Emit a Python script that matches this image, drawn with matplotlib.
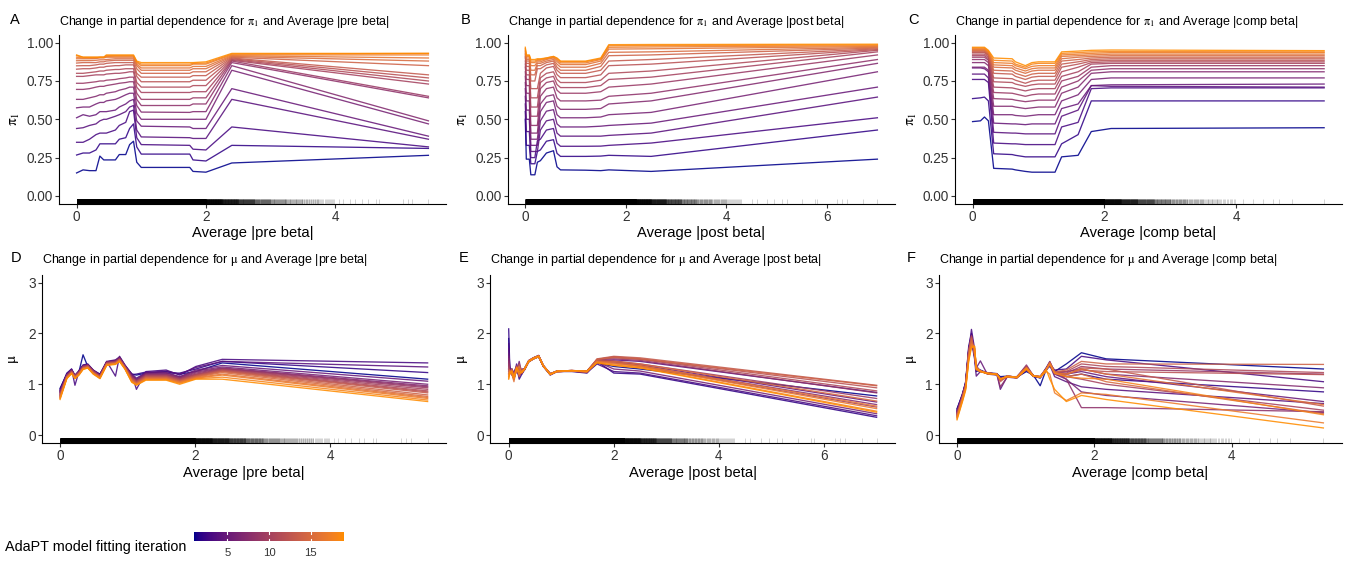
import numpy as np
import matplotlib
matplotlib.use("Agg")
import matplotlib.pyplot as plt
import matplotlib.transforms as mtransforms
from matplotlib.collections import LineCollection
from matplotlib.colors import ListedColormap

plt.rcParams['font.family'] = ['Liberation Sans', 'DejaVu Sans']
plt.rcParams['mathtext.fontset'] = 'stix'
plt.rcParams['mathtext.default'] = 'rm'

# ---------------------------------------------------------------- data
iterations = list(range(1, 20))

# pi1 vs Average |pre beta|
x_pi_pre = [0, 0.1, 0.2, 0.3, 0.36, 0.42, 0.46, 0.6, 0.66, 0.76, 0.82, 0.88,
            0.93, 1.0, 1.75, 1.8, 2.0, 2.4, 5.44]
pi_pre = [
    [0.15, 0.17, 0.165, 0.165, 0.26, 0.235, 0.235, 0.235, 0.27, 0.27, 0.335, 0.357, 0.22, 0.186, 0.186, 0.16, 0.155, 0.215, 0.265],
    [0.267, 0.28, 0.28, 0.30, 0.34, 0.34, 0.34, 0.34, 0.37, 0.38, 0.44, 0.47, 0.32, 0.273, 0.273, 0.235, 0.228, 0.33, 0.31],
    [0.35, 0.35, 0.37, 0.40, 0.41, 0.41, 0.41, 0.43, 0.46, 0.48, 0.55, 0.56, 0.38, 0.335, 0.33, 0.305, 0.30, 0.45, 0.32],
    [0.44, 0.445, 0.46, 0.47, 0.49, 0.50, 0.50, 0.52, 0.53, 0.55, 0.58, 0.59, 0.43, 0.385, 0.38, 0.375, 0.375, 0.63, 0.37],
    [0.51, 0.53, 0.52, 0.53, 0.55, 0.55, 0.55, 0.56, 0.58, 0.60, 0.62, 0.63, 0.49, 0.455, 0.45, 0.44, 0.44, 0.70, 0.39],
    [0.575, 0.58, 0.58, 0.60, 0.61, 0.61, 0.62, 0.63, 0.64, 0.66, 0.67, 0.67, 0.54, 0.50, 0.50, 0.50, 0.50, 0.82, 0.47],
    [0.63, 0.63, 0.64, 0.65, 0.66, 0.66, 0.67, 0.68, 0.69, 0.70, 0.71, 0.71, 0.59, 0.547, 0.545, 0.55, 0.55, 0.85, 0.49],
    [0.695, 0.695, 0.70, 0.71, 0.715, 0.715, 0.72, 0.73, 0.735, 0.74, 0.745, 0.745, 0.63, 0.59, 0.59, 0.60, 0.60, 0.87, 0.64],
    [0.735, 0.735, 0.74, 0.745, 0.75, 0.75, 0.755, 0.76, 0.765, 0.77, 0.775, 0.775, 0.67, 0.63, 0.63, 0.64, 0.64, 0.88, 0.65],
    [0.78, 0.78, 0.785, 0.79, 0.79, 0.79, 0.795, 0.80, 0.80, 0.805, 0.81, 0.81, 0.71, 0.675, 0.675, 0.68, 0.68, 0.885, 0.73],
    [0.80, 0.80, 0.805, 0.81, 0.815, 0.815, 0.82, 0.825, 0.825, 0.83, 0.83, 0.83, 0.74, 0.71, 0.71, 0.72, 0.72, 0.89, 0.75],
    [0.827, 0.83, 0.83, 0.835, 0.84, 0.84, 0.845, 0.85, 0.85, 0.855, 0.855, 0.855, 0.78, 0.745, 0.745, 0.755, 0.755, 0.895, 0.77],
    [0.849, 0.85, 0.85, 0.855, 0.86, 0.86, 0.865, 0.87, 0.87, 0.87, 0.87, 0.87, 0.80, 0.775, 0.775, 0.785, 0.785, 0.90, 0.79],
    [0.867, 0.87, 0.87, 0.87, 0.875, 0.875, 0.88, 0.885, 0.885, 0.885, 0.885, 0.885, 0.83, 0.80, 0.80, 0.81, 0.81, 0.905, 0.85],
    [0.882, 0.883, 0.883, 0.885, 0.888, 0.888, 0.89, 0.895, 0.895, 0.895, 0.895, 0.895, 0.85, 0.82, 0.82, 0.83, 0.83, 0.91, 0.88],
    [0.895, 0.895, 0.895, 0.897, 0.90, 0.90, 0.905, 0.905, 0.905, 0.905, 0.905, 0.905, 0.86, 0.835, 0.835, 0.845, 0.845, 0.915, 0.90],
    [0.905, 0.90, 0.90, 0.90, 0.905, 0.905, 0.91, 0.912, 0.912, 0.912, 0.912, 0.912, 0.87, 0.85, 0.85, 0.86, 0.86, 0.92, 0.92],
    [0.915, 0.905, 0.905, 0.905, 0.905, 0.905, 0.915, 0.915, 0.915, 0.915, 0.915, 0.915, 0.875, 0.86, 0.86, 0.865, 0.867, 0.925, 0.93],
    [0.92, 0.905, 0.905, 0.905, 0.905, 0.905, 0.92, 0.92, 0.92, 0.92, 0.92, 0.92, 0.88, 0.87, 0.87, 0.87, 0.875, 0.93, 0.93],
]

# pi1 vs Average |post beta|
x_pi_post = [0, 0.02, 0.08, 0.11, 0.19, 0.24, 0.3, 0.42, 0.56, 0.63, 0.7, 1.2, 1.5, 1.66, 2.5, 7.0]
pi_post = [
    [0.50, 0.24, 0.24, 0.138, 0.138, 0.22, 0.23, 0.28, 0.295, 0.19, 0.17, 0.168, 0.165, 0.17, 0.16, 0.24],
    [0.55, 0.33, 0.33, 0.21, 0.21, 0.29, 0.30, 0.357, 0.367, 0.278, 0.258, 0.258, 0.26, 0.265, 0.258, 0.43],
    [0.60, 0.42, 0.42, 0.25, 0.25, 0.36, 0.37, 0.43, 0.44, 0.344, 0.324, 0.324, 0.325, 0.33, 0.345, 0.51],
    [0.65, 0.50, 0.50, 0.29, 0.29, 0.29, 0.43, 0.49, 0.50, 0.41, 0.39, 0.39, 0.39, 0.395, 0.41, 0.645],
    [0.70, 0.56, 0.56, 0.33, 0.33, 0.33, 0.49, 0.553, 0.563, 0.47, 0.45, 0.45, 0.455, 0.46, 0.475, 0.71],
    [0.74, 0.62, 0.62, 0.37, 0.37, 0.37, 0.55, 0.61, 0.62, 0.53, 0.51, 0.51, 0.515, 0.53, 0.545, 0.81],
    [0.78, 0.67, 0.67, 0.41, 0.41, 0.41, 0.60, 0.65, 0.66, 0.585, 0.565, 0.565, 0.57, 0.60, 0.62, 0.865],
    [0.81, 0.72, 0.72, 0.46, 0.46, 0.46, 0.65, 0.70, 0.71, 0.64, 0.62, 0.62, 0.625, 0.65, 0.67, 0.89],
    [0.84, 0.76, 0.76, 0.52, 0.52, 0.52, 0.70, 0.74, 0.75, 0.69, 0.67, 0.67, 0.68, 0.71, 0.73, 0.92],
    [0.86, 0.79, 0.79, 0.58, 0.58, 0.58, 0.74, 0.77, 0.78, 0.727, 0.707, 0.707, 0.72, 0.76, 0.775, 0.94],
    [0.88, 0.82, 0.82, 0.64, 0.64, 0.64, 0.77, 0.80, 0.81, 0.76, 0.74, 0.74, 0.755, 0.80, 0.815, 0.95],
    [0.90, 0.845, 0.845, 0.70, 0.70, 0.70, 0.80, 0.835, 0.845, 0.792, 0.772, 0.772, 0.79, 0.85, 0.86, 0.955],
    [0.91, 0.865, 0.865, 0.75, 0.75, 0.83, 0.83, 0.855, 0.865, 0.82, 0.80, 0.80, 0.82, 0.88, 0.89, 0.96],
    [0.92, 0.88, 0.88, 0.79, 0.79, 0.85, 0.85, 0.87, 0.88, 0.84, 0.82, 0.82, 0.845, 0.915, 0.92, 0.965],
    [0.93, 0.89, 0.89, 0.82, 0.82, 0.865, 0.865, 0.88, 0.89, 0.86, 0.84, 0.84, 0.865, 0.937, 0.94, 0.97],
    [0.94, 0.90, 0.90, 0.85, 0.85, 0.875, 0.875, 0.89, 0.90, 0.877, 0.857, 0.857, 0.88, 0.958, 0.96, 0.975],
    [0.95, 0.91, 0.91, 0.87, 0.87, 0.885, 0.885, 0.895, 0.905, 0.888, 0.868, 0.868, 0.89, 0.97, 0.972, 0.98],
    [0.96, 0.915, 0.915, 0.88, 0.88, 0.89, 0.89, 0.90, 0.91, 0.896, 0.876, 0.876, 0.895, 0.98, 0.981, 0.985],
    [0.97, 0.92, 0.92, 0.89, 0.89, 0.895, 0.895, 0.90, 0.91, 0.90, 0.88, 0.88, 0.90, 0.987, 0.988, 0.99],
]

# pi1 vs Average |comp beta|
x_pi_comp = [0, 0.12, 0.18, 0.24, 0.32, 0.6, 0.65, 0.8, 0.9, 1.0, 1.25, 1.35, 1.6, 1.8, 2.1, 5.33]
pi_comp = [
    [0.485, 0.49, 0.515, 0.49, 0.18, 0.175, 0.17, 0.16, 0.155, 0.155, 0.155, 0.255, 0.265, 0.42, 0.44, 0.445],
    [0.635, 0.64, 0.645, 0.62, 0.275, 0.27, 0.265, 0.255, 0.255, 0.255, 0.255, 0.34, 0.40, 0.62, 0.62, 0.62],
    [0.76, 0.76, 0.76, 0.74, 0.345, 0.34, 0.34, 0.335, 0.335, 0.335, 0.335, 0.45, 0.48, 0.70, 0.705, 0.705],
    [0.795, 0.795, 0.795, 0.77, 0.415, 0.41, 0.41, 0.405, 0.405, 0.405, 0.405, 0.52, 0.56, 0.72, 0.715, 0.71],
    [0.835, 0.835, 0.83, 0.81, 0.475, 0.47, 0.47, 0.465, 0.47, 0.47, 0.47, 0.57, 0.60, 0.72, 0.725, 0.73],
    [0.84, 0.84, 0.84, 0.82, 0.53, 0.53, 0.525, 0.52, 0.525, 0.53, 0.53, 0.62, 0.66, 0.76, 0.77, 0.77],
    [0.87, 0.87, 0.87, 0.85, 0.585, 0.585, 0.58, 0.57, 0.575, 0.58, 0.58, 0.67, 0.71, 0.80, 0.81, 0.81],
    [0.89, 0.89, 0.89, 0.87, 0.635, 0.63, 0.625, 0.615, 0.62, 0.625, 0.625, 0.71, 0.75, 0.82, 0.83, 0.83],
    [0.905, 0.905, 0.905, 0.885, 0.675, 0.67, 0.665, 0.65, 0.66, 0.665, 0.665, 0.75, 0.78, 0.84, 0.85, 0.85],
    [0.915, 0.915, 0.915, 0.895, 0.71, 0.705, 0.70, 0.685, 0.695, 0.70, 0.70, 0.78, 0.81, 0.86, 0.865, 0.865],
    [0.925, 0.925, 0.925, 0.905, 0.745, 0.74, 0.73, 0.715, 0.725, 0.73, 0.73, 0.81, 0.84, 0.87, 0.875, 0.875],
    [0.935, 0.935, 0.935, 0.915, 0.77, 0.765, 0.755, 0.735, 0.75, 0.755, 0.755, 0.84, 0.86, 0.88, 0.885, 0.885],
    [0.94, 0.94, 0.94, 0.92, 0.80, 0.795, 0.78, 0.76, 0.775, 0.78, 0.78, 0.86, 0.875, 0.89, 0.895, 0.895],
    [0.945, 0.945, 0.945, 0.925, 0.82, 0.815, 0.80, 0.78, 0.795, 0.80, 0.80, 0.88, 0.89, 0.90, 0.905, 0.905],
    [0.95, 0.95, 0.95, 0.93, 0.84, 0.835, 0.82, 0.80, 0.815, 0.82, 0.82, 0.895, 0.905, 0.91, 0.915, 0.915],
    [0.955, 0.955, 0.955, 0.935, 0.855, 0.85, 0.835, 0.815, 0.83, 0.835, 0.835, 0.91, 0.915, 0.92, 0.925, 0.925],
    [0.96, 0.96, 0.96, 0.94, 0.87, 0.865, 0.85, 0.83, 0.845, 0.85, 0.85, 0.92, 0.925, 0.93, 0.935, 0.935],
    [0.965, 0.965, 0.965, 0.945, 0.885, 0.88, 0.86, 0.84, 0.86, 0.865, 0.865, 0.93, 0.935, 0.94, 0.942, 0.94],
    [0.97, 0.97, 0.97, 0.95, 0.90, 0.895, 0.875, 0.85, 0.87, 0.875, 0.875, 0.94, 0.945, 0.95, 0.952, 0.948],
]

# mu vs Average |pre beta|
x_mu_pre = [0, 0.1, 0.17, 0.22, 0.28, 0.34, 0.41, 0.49, 0.59, 0.69, 0.82, 0.88, 0.96,
            1.06, 1.13, 1.27, 1.57, 1.77, 2.01, 2.4, 5.44]
mu_pre = [
    [0.92, 1.2, 1.28, 1.15, 1.25, 1.58, 1.35, 1.25, 1.2, 1.42, 1.46, 1.5, 1.35, 1.2, 1.18, 1.22, 1.25, 1.2, 1.25, 1.42, 1.1],
    [0.9, 1.22, 1.3, 1.17, 1.27, 1.38, 1.4, 1.28, 1.2, 1.44, 1.47, 1.52, 1.36, 1.19, 1.2, 1.24, 1.22, 1.22, 1.3, 1.45, 1.23],
    [0.88, 1.2, 1.3, 0.98, 1.25, 1.37, 1.38, 1.27, 1.19, 1.45, 1.16, 1.55, 1.38, 1.2, 0.9, 1.25, 1.28, 1.18, 1.35, 1.49, 1.42],
    [0.87, 1.18, 1.29, 1.18, 1.26, 1.37, 1.39, 1.28, 1.18, 1.45, 1.48, 1.54, 1.37, 1.21, 1.12, 1.23, 1.26, 1.2, 1.33, 1.45, 1.34],
    [0.86, 1.19, 1.28, 1.17, 1.24, 1.36, 1.38, 1.27, 1.18, 1.44, 1.46, 1.53, 1.37, 1.18, 1.1, 1.22, 1.23, 1.15, 1.28, 1.37, 1.06],
    [0.85, 1.18, 1.27, 1.16, 1.25, 1.36, 1.37, 1.26, 1.17, 1.43, 1.46, 1.52, 1.36, 1.17, 1.09, 1.21, 1.22, 1.14, 1.26, 1.34, 1.0],
    [0.84, 1.17, 1.27, 1.17, 1.24, 1.35, 1.38, 1.27, 1.17, 1.44, 1.45, 1.51, 1.36, 1.16, 1.08, 1.2, 1.2, 1.13, 1.24, 1.32, 0.97],
    [0.83, 1.18, 1.26, 1.16, 1.23, 1.35, 1.37, 1.26, 1.17, 1.43, 1.45, 1.5, 1.35, 1.15, 1.07, 1.19, 1.19, 1.12, 1.22, 1.31, 0.95],
    [0.82, 1.17, 1.26, 1.17, 1.24, 1.34, 1.37, 1.25, 1.16, 1.42, 1.44, 1.5, 1.35, 1.14, 1.06, 1.18, 1.18, 1.11, 1.2, 1.3, 0.93],
    [0.8, 1.16, 1.25, 1.16, 1.23, 1.34, 1.36, 1.25, 1.16, 1.42, 1.44, 1.49, 1.34, 1.13, 1.05, 1.17, 1.17, 1.1, 1.19, 1.29, 0.9],
    [0.79, 1.15, 1.25, 1.15, 1.22, 1.33, 1.36, 1.24, 1.15, 1.41, 1.43, 1.49, 1.34, 1.12, 1.05, 1.16, 1.16, 1.09, 1.18, 1.28, 0.87],
    [0.78, 1.15, 1.24, 1.15, 1.22, 1.33, 1.35, 1.24, 1.15, 1.41, 1.43, 1.48, 1.33, 1.11, 1.04, 1.15, 1.15, 1.08, 1.17, 1.27, 0.85],
    [0.77, 1.14, 1.24, 1.14, 1.21, 1.32, 1.35, 1.23, 1.14, 1.4, 1.42, 1.48, 1.33, 1.1, 1.03, 1.14, 1.14, 1.07, 1.16, 1.26, 0.83],
    [0.76, 1.14, 1.23, 1.14, 1.21, 1.32, 1.34, 1.23, 1.14, 1.4, 1.42, 1.47, 1.32, 1.09, 1.02, 1.13, 1.13, 1.06, 1.15, 1.25, 0.79],
    [0.75, 1.13, 1.23, 1.13, 1.2, 1.31, 1.34, 1.22, 1.13, 1.39, 1.41, 1.47, 1.32, 1.08, 1.01, 1.12, 1.12, 1.05, 1.14, 1.23, 0.76],
    [0.74, 1.13, 1.22, 1.13, 1.2, 1.31, 1.33, 1.22, 1.13, 1.39, 1.41, 1.46, 1.31, 1.07, 1.0, 1.11, 1.11, 1.04, 1.13, 1.2, 0.74],
    [0.73, 1.12, 1.22, 1.12, 1.19, 1.3, 1.33, 1.21, 1.12, 1.38, 1.4, 1.46, 1.31, 1.06, 1.0, 1.1, 1.1, 1.03, 1.12, 1.18, 0.72],
    [0.72, 1.12, 1.21, 1.12, 1.19, 1.3, 1.32, 1.21, 1.12, 1.38, 1.4, 1.45, 1.3, 1.05, 0.99, 1.09, 1.09, 1.02, 1.11, 1.14, 0.69],
    [0.7, 1.11, 1.21, 1.11, 1.18, 1.29, 1.32, 1.2, 1.11, 1.37, 1.39, 1.45, 1.3, 1.04, 0.98, 1.08, 1.08, 1.0, 1.1, 1.1, 0.66],
]

# mu vs Average |post beta|
x_mu_post = [0, 0.02, 0.06, 0.1, 0.15, 0.2, 0.25, 0.3, 0.38, 0.47, 0.57, 0.66, 0.79,
             0.92, 1.2, 1.49, 1.68, 2.0, 2.5, 7.0]
mu_post = [
    [1.9, 1.25, 1.3, 1.2, 1.3, 1.15, 1.25, 1.3, 1.45, 1.5, 1.54, 1.35, 1.2, 1.26, 1.26, 1.24, 1.42, 1.35, 1.3, 0.77],
    [2.09, 1.35, 1.2, 1.1, 1.35, 1.1, 1.2, 1.28, 1.44, 1.5, 1.55, 1.36, 1.18, 1.25, 1.25, 1.22, 1.45, 1.22, 1.2, 0.35],
    [1.8, 1.3, 1.25, 1.15, 1.4, 1.2, 1.22, 1.3, 1.46, 1.52, 1.56, 1.37, 1.2, 1.26, 1.26, 1.23, 1.4, 1.25, 1.22, 0.38],
    [1.7, 1.28, 1.22, 1.2, 1.3, 1.3, 1.25, 1.28, 1.44, 1.5, 1.55, 1.35, 1.2, 1.25, 1.26, 1.25, 1.46, 1.48, 1.45, 0.84],
    [1.6, 1.22, 1.3, 1.15, 1.25, 1.45, 1.2, 1.3, 1.46, 1.52, 1.56, 1.36, 1.21, 1.26, 1.27, 1.26, 1.47, 1.45, 1.38, 0.65],
    [1.55, 1.3, 1.18, 1.25, 1.35, 1.2, 1.28, 1.29, 1.45, 1.51, 1.55, 1.35, 1.19, 1.25, 1.26, 1.24, 1.44, 1.3, 1.26, 0.42],
    [1.5, 1.25, 1.25, 1.12, 1.3, 1.25, 1.3, 1.31, 1.47, 1.52, 1.57, 1.37, 1.2, 1.26, 1.27, 1.25, 1.46, 1.42, 1.36, 0.6],
    [1.45, 1.2, 1.3, 1.2, 1.28, 1.35, 1.22, 1.3, 1.45, 1.5, 1.55, 1.36, 1.21, 1.25, 1.26, 1.26, 1.48, 1.5, 1.47, 0.83],
    [1.4, 1.28, 1.2, 1.18, 1.32, 1.15, 1.26, 1.29, 1.46, 1.51, 1.56, 1.35, 1.2, 1.26, 1.27, 1.25, 1.47, 1.46, 1.4, 0.72],
    [1.35, 1.22, 1.25, 1.1, 1.3, 1.3, 1.24, 1.3, 1.45, 1.5, 1.55, 1.36, 1.19, 1.25, 1.26, 1.24, 1.45, 1.44, 1.35, 0.55],
    [1.3, 1.26, 1.22, 1.15, 1.36, 1.2, 1.28, 1.31, 1.46, 1.52, 1.56, 1.37, 1.2, 1.26, 1.27, 1.26, 1.48, 1.52, 1.49, 0.87],
    [1.28, 1.24, 1.28, 1.12, 1.28, 1.4, 1.25, 1.3, 1.45, 1.51, 1.55, 1.36, 1.21, 1.25, 1.26, 1.25, 1.49, 1.54, 1.5, 0.93],
    [1.25, 1.2, 1.3, 1.18, 1.3, 1.25, 1.23, 1.29, 1.44, 1.5, 1.54, 1.35, 1.2, 1.25, 1.26, 1.25, 1.5, 1.55, 1.52, 0.98],
    [1.22, 1.25, 1.2, 1.1, 1.35, 1.15, 1.27, 1.3, 1.46, 1.51, 1.55, 1.36, 1.2, 1.26, 1.27, 1.26, 1.49, 1.53, 1.5, 0.97],
    [1.2, 1.22, 1.25, 1.15, 1.3, 1.3, 1.24, 1.3, 1.45, 1.5, 1.55, 1.35, 1.19, 1.25, 1.26, 1.25, 1.46, 1.45, 1.4, 0.67],
    [1.18, 1.28, 1.2, 1.05, 1.32, 1.2, 1.26, 1.29, 1.44, 1.5, 1.54, 1.35, 1.2, 1.25, 1.26, 1.24, 1.45, 1.42, 1.37, 0.57],
    [1.15, 1.2, 1.27, 1.12, 1.28, 1.35, 1.22, 1.3, 1.45, 1.51, 1.55, 1.36, 1.21, 1.26, 1.27, 1.25, 1.44, 1.4, 1.35, 0.52],
    [1.12, 1.25, 1.22, 1.1, 1.3, 1.2, 1.25, 1.29, 1.46, 1.52, 1.56, 1.37, 1.2, 1.25, 1.26, 1.25, 1.43, 1.38, 1.33, 0.47],
    [1.1, 1.22, 1.25, 1.14, 1.33, 1.25, 1.23, 1.3, 1.45, 1.5, 1.55, 1.36, 1.19, 1.26, 1.27, 1.26, 1.42, 1.37, 1.32, 0.45],
]

# mu vs Average |comp beta|
x_mu_comp = [0, 0.08, 0.125, 0.17, 0.21, 0.255, 0.28, 0.34, 0.44, 0.58, 0.63, 0.73,
             0.87, 1.01, 1.11, 1.21, 1.3, 1.35, 1.42, 1.59, 1.81, 2.17, 5.33]
mu_comp = [
    [0.52, 0.8, 1.05, 1.7, 1.9, 1.55, 1.25, 1.28, 1.22, 1.2, 1.15, 1.16, 1.14, 1.25, 1.18, 0.97, 1.3, 1.35, 1.25, 1.4, 1.62, 1.5, 1.3],
    [0.5, 0.82, 1.02, 1.75, 2.0, 1.6, 1.3, 1.26, 1.23, 1.21, 1.12, 1.15, 1.13, 1.28, 1.17, 1.12, 1.32, 1.42, 1.2, 1.15, 1.2, 1.1, 0.85],
    [0.48, 0.78, 1.0, 1.65, 2.08, 1.7, 1.35, 1.27, 1.21, 1.19, 1.1, 1.16, 1.14, 1.3, 1.16, 1.14, 1.3, 1.4, 1.28, 1.3, 1.55, 1.48, 1.05],
    [0.47, 0.8, 1.03, 1.6, 1.85, 1.5, 1.16, 1.25, 1.22, 1.2, 0.9, 1.15, 1.15, 1.35, 1.15, 1.13, 1.28, 1.38, 1.15, 1.05, 0.95, 0.9, 0.62],
    [0.46, 0.76, 0.98, 1.68, 1.95, 1.62, 1.32, 1.46, 1.2, 1.18, 1.12, 1.14, 1.12, 1.32, 1.17, 1.15, 1.33, 1.45, 1.22, 1.2, 1.25, 1.15, 0.66],
    [0.45, 0.79, 1.01, 1.62, 1.9, 1.55, 1.28, 1.26, 1.22, 1.2, 1.08, 1.15, 1.14, 1.28, 1.16, 1.14, 1.3, 1.4, 1.2, 1.1, 0.85, 0.78, 0.44],
    [0.44, 0.77, 1.0, 1.66, 1.95, 1.6, 1.3, 1.26, 1.21, 1.2, 1.1, 1.16, 1.13, 1.3, 1.16, 1.15, 1.3, 1.42, 1.23, 1.25, 1.3, 1.2, 0.93],
    [0.43, 0.78, 1.0, 1.64, 1.92, 1.58, 1.29, 1.25, 1.22, 1.19, 0.95, 1.14, 1.14, 1.38, 1.17, 1.14, 1.29, 1.4, 1.25, 1.1, 0.54, 0.54, 0.46],
    [0.42, 0.77, 0.99, 1.66, 1.96, 1.62, 1.3, 1.26, 1.21, 1.2, 1.12, 1.15, 1.13, 1.3, 1.16, 1.15, 1.31, 1.43, 1.24, 1.22, 1.35, 1.3, 1.2],
    [0.41, 0.76, 0.98, 1.63, 1.9, 1.58, 1.3, 1.27, 1.22, 1.2, 1.1, 1.15, 1.14, 1.35, 1.17, 1.14, 1.3, 1.41, 1.22, 1.15, 1.1, 1.0, 0.49],
    [0.4, 0.75, 0.98, 1.65, 1.94, 1.6, 1.3, 1.26, 1.21, 1.2, 1.1, 1.16, 1.14, 1.3, 1.16, 1.15, 1.3, 1.44, 1.25, 1.25, 1.4, 1.35, 1.23],
    [0.39, 0.74, 0.97, 1.62, 1.92, 1.58, 1.28, 1.25, 1.22, 1.19, 1.08, 1.15, 1.13, 1.32, 1.17, 1.14, 1.3, 1.4, 1.22, 1.2, 1.28, 1.25, 1.19],
    [0.38, 0.74, 0.96, 1.6, 1.9, 1.6, 1.3, 1.26, 1.21, 1.2, 1.1, 1.15, 1.14, 1.3, 1.16, 1.15, 1.28, 1.38, 1.2, 1.18, 1.32, 1.3, 0.57],
    [0.37, 0.73, 0.95, 1.58, 1.88, 1.62, 1.3, 1.26, 1.22, 1.2, 1.05, 1.16, 1.14, 1.34, 1.17, 1.14, 1.3, 1.42, 1.24, 1.28, 1.45, 1.4, 1.39],
    [0.36, 0.72, 0.94, 1.55, 1.85, 1.65, 1.32, 1.25, 1.21, 1.19, 1.1, 1.15, 1.13, 1.3, 1.16, 1.15, 1.3, 1.4, 1.22, 1.15, 1.2, 1.05, 0.42],
    [0.35, 0.71, 0.93, 1.52, 1.8, 1.7, 1.35, 1.26, 1.22, 1.2, 1.1, 1.16, 1.14, 1.32, 1.17, 1.15, 1.3, 1.42, 1.23, 1.2, 1.3, 1.2, 0.6],
    [0.34, 0.7, 0.92, 1.5, 1.78, 1.75, 1.3, 1.25, 1.21, 1.19, 1.1, 1.15, 1.13, 1.3, 1.16, 1.14, 1.25, 1.2, 0.83, 0.68, 0.83, 0.8, 0.24],
    [0.32, 0.68, 0.9, 1.48, 1.75, 1.72, 1.32, 1.26, 1.22, 1.2, 1.1, 1.16, 1.14, 1.32, 1.17, 1.15, 1.3, 1.4, 1.22, 1.15, 1.12, 1.1, 0.4],
    [0.3, 0.66, 0.88, 1.45, 1.72, 1.75, 1.3, 1.25, 1.21, 1.19, 1.1, 1.15, 1.13, 1.3, 1.16, 1.14, 1.28, 1.1, 0.9, 0.66, 0.78, 0.7, 0.14],
]

# rug of observed predictor values: dense core bins (edges, counts) plus sparse tail values
pre_rug_edges = [0, 2.0, 2.25, 2.5, 2.75, 3.0, 3.25, 3.5, 3.75, 4.0]
pre_rug_counts = [6000, 300, 200, 130, 80, 50, 35, 25, 15]
pre_rug_tail = [4.05, 4.12, 4.22, 4.3, 4.42, 4.5, 4.63, 4.68, 5.04, 5.12, 5.19, 5.44]

post_rug_edges = [0, 2.2, 2.5, 2.8, 3.1, 3.4, 3.7, 4.0, 4.3]
post_rug_counts = [6000, 280, 180, 110, 65, 42, 28, 16]
post_rug_tail = [4.5, 4.6, 4.8, 4.95, 5.1, 5.2, 5.5, 5.75, 5.8, 6.2, 6.3, 6.4, 6.72, 7.0]

comp_rug_edges = [0, 2.0, 2.25, 2.5, 2.75, 3.0, 3.25, 3.5, 3.75, 4.0]
comp_rug_counts = [6000, 280, 180, 115, 70, 45, 30, 20, 12]
comp_rug_tail = [4.1, 4.25, 4.4, 4.55, 4.65, 4.85, 5.33]

# ---------------------------------------------------------------- colours
_M = np.array([[0.4124564, 0.3575761, 0.1804375],
               [0.2126729, 0.7151522, 0.0721750],
               [0.0193339, 0.1191920, 0.9503041]])
_WHITE = np.array([0.95047, 1.0, 1.08883])


def hex_to_rgb(h):
    h = h.lstrip('#')
    return np.array([int(h[i:i + 2], 16) / 255 for i in (0, 2, 4)])


def srgb_to_lab(rgb):
    c = np.where(rgb <= 0.04045, rgb / 12.92, ((rgb + 0.055) / 1.055) ** 2.4)
    t = (_M @ c) / _WHITE
    d = 6 / 29
    f = np.where(t > d ** 3, np.cbrt(t), t / (3 * d * d) + 4 / 29)
    return np.array([116 * f[1] - 16, 500 * (f[0] - f[1]), 200 * (f[1] - f[2])])


def lab_to_srgb(lab):
    L, a, b = lab
    fy = (L + 16) / 116
    fx = fy + a / 500
    fz = fy - b / 200
    d = 6 / 29
    f = np.array([fx, fy, fz])
    t = np.where(f > d, f ** 3, 3 * d * d * (f - 4 / 29))
    c = np.linalg.solve(_M, t * _WHITE)
    c = np.clip(c, 0, 1)
    c = np.where(c <= 0.0031308, 12.92 * c, 1.055 * c ** (1 / 2.4) - 0.055)
    return np.clip(c, 0, 1)


LOW, HIGH = "#00008B", "#FF8C00"
lab_lo, lab_hi = srgb_to_lab(hex_to_rgb(LOW)), srgb_to_lab(hex_to_rgb(HIGH))
grad = [lab_to_srgb(lab_lo + (lab_hi - lab_lo) * t) for t in np.linspace(0, 1, 256)]
cmap = ListedColormap(grad)
it_min, it_max = min(iterations), max(iterations)
line_colors = [cmap((k - it_min) / (it_max - it_min)) for k in iterations]

# ---------------------------------------------------------------- layout
W, H = 1349, 563
fig = plt.figure(figsize=(W / 100, H / 100), dpi=100)
TICK_C = '#333333'


def add_axes_px(x0, y0, x1, y1):
    return fig.add_axes([x0 / W, 1 - y1 / H, (x1 - x0) / W, (y1 - y0) / H])


def ftext(px, py, s, **kw):
    fig.text(px / W, 1 - py / H, s, **kw)


def rug_positions(edges, counts, tail):
    parts = [np.linspace(lo, hi, n, endpoint=False)
             for lo, hi, n in zip(edges[:-1], edges[1:], counts)]
    parts.append(np.asarray(tail, float))
    return np.concatenate(parts)


def draw_panel(box, xs, table, rug, xmax, xticks, is_pi, letter, title,
               xlabel, letter_px, ylab_px, title_base, xlab_base):
    x0, y0, x1, y1 = box
    ax = add_axes_px(x0, y0, x1, y1)
    for row, col in zip(table, line_colors):
        ax.plot(xs, row, color=col, lw=0.95, alpha=0.88, solid_joinstyle='round')
    trans = mtransforms.blended_transform_factory(ax.transData, ax.transAxes)
    segs = [[(v, 0.0), (v, 0.03)] for v in rug]
    ax.add_collection(LineCollection(segs, transform=trans, colors='black',
                                     alpha=0.2, linewidths=0.6))
    pad = 0.05 * xmax
    ax.set_xlim(-pad, xmax + pad)
    ax.set_xticks(xticks)
    ax.set_xticklabels([str(t) for t in xticks])
    if is_pi:
        ax.set_ylim(-0.05, 1.05)
        ax.set_yticks([0, 0.25, 0.5, 0.75, 1.0])
        ax.set_yticklabels(['0.00', '0.25', '0.50', '0.75', '1.00'])
    else:
        ax.set_ylim(-0.15, 3.15)
        ax.set_yticks([0, 1, 2, 3])
        ax.set_yticklabels(['0', '1', '2', '3'])
    for side in ('top', 'right'):
        ax.spines[side].set_visible(False)
    for side in ('left', 'bottom'):
        ax.spines[side].set_linewidth(0.8)
        ax.spines[side].set_color('black')
    ax.tick_params(axis='both', length=2.7, width=0.8, color=TICK_C,
                   labelsize=9.8, labelcolor=TICK_C, pad=1.6)
    # annotations
    ftext(letter_px, title_base - 1.5, letter, fontsize=10.5, ha='left', va='baseline')
    ftext(x0, title_base, title, fontsize=9.0, ha='left', va='baseline')
    ftext((x0 + x1) / 2, xlab_base, xlabel, fontsize=10.6, ha='center', va='baseline')
    ylab = r'$\pi_1$' if is_pi else r'$\mu$'
    ftext(ylab_px, (y0 + y1) / 2, ylab, fontsize=11, rotation=90,
          ha='center', va='center')
    return ax


rug_pre = rug_positions(pre_rug_edges, pre_rug_counts, pre_rug_tail)
rug_post = rug_positions(post_rug_edges, post_rug_counts, post_rug_tail)
rug_comp = rug_positions(comp_rug_edges, comp_rug_counts, comp_rug_tail)

TOP = (35, 203.6)
BOT = (275, 442.7)

draw_panel((59, TOP[0], 446, TOP[1]), x_pi_pre, pi_pre, rug_pre, 5.44, [0, 2, 4], True, 'A',
           r'Change in partial dependence for $\pi_1$ and Average |pre beta|',
           'Average |pre beta|', 10, 15, 25, 237)
draw_panel((507.7, TOP[0], 895, TOP[1]), x_pi_post, pi_post, rug_post, 7.0, [0, 2, 4, 6], True, 'B',
           r'Change in partial dependence for $\pi_1$ and Average |post beta|',
           'Average |post beta|', 461, 463, 25, 237)
draw_panel((955, TOP[0], 1341.7, TOP[1]), x_pi_comp, pi_comp, rug_comp, 5.33, [0, 2, 4], True, 'C',
           r'Change in partial dependence for $\pi_1$ and Average |comp beta|',
           'Average |comp beta|', 908, 912, 25, 237)
draw_panel((41.7, BOT[0], 446, BOT[1]), x_mu_pre, mu_pre, rug_pre, 5.44, [0, 2, 4], False, 'D',
           r'Change in partial dependence for $\mu$ and Average |pre beta|',
           'Average |pre beta|', 11, 14, 263, 476.5)
draw_panel((490.3, BOT[0], 895, BOT[1]), x_mu_post, mu_post, rug_post, 7.0, [0, 2, 4, 6], False, 'E',
           r'Change in partial dependence for $\mu$ and Average |post beta|',
           'Average |post beta|', 459, 463, 263, 476.5)
draw_panel((938.7, BOT[0], 1341.7, BOT[1]), x_mu_comp, mu_comp, rug_comp, 5.33, [0, 2, 4], False, 'F',
           r'Change in partial dependence for $\mu$ and Average |comp beta|',
           'Average |comp beta|', 907, 912, 263, 476.5)

# ---------------------------------------------------------------- colour legend
cax = add_axes_px(194, 532.3, 344, 540.7)
cax.imshow(np.linspace(it_min, it_max, 300)[None, :], extent=[it_min, it_max, 0, 1],
           aspect='auto', cmap=cmap, vmin=it_min, vmax=it_max, interpolation='bilinear')
cax.set_xlim(it_min, it_max)
cax.set_ylim(0, 1)
cax.axis('off')
legend_ticks = [5, 10, 15]
for t in legend_ticks:
    cax.plot([t, t], [0, 0.2], color='white', lw=0.8)
    cax.plot([t, t], [0.8, 1.0], color='white', lw=0.8)
    px = 194 + (t - it_min) / (it_max - it_min) * (344 - 194)
    ftext(px, 556.5, str(t), fontsize=8.2, color=TICK_C, ha='center', va='baseline')
ftext(5, 550.5, 'AdaPT model fitting iteration', fontsize=10.4, ha='left', va='baseline')

fig.savefig('out.png', dpi=100)
